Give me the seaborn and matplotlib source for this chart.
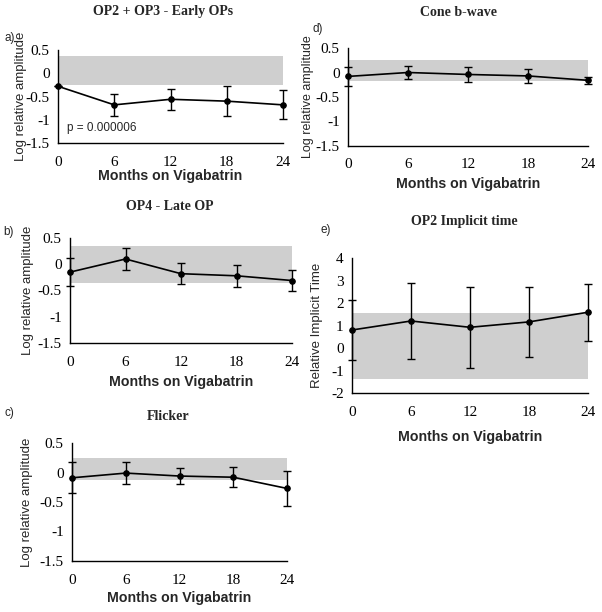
import matplotlib
matplotlib.use('Agg')
import matplotlib.pyplot as plt
import seaborn as sns
import pandas as pd
from matplotlib.ticker import FormatStrFormatter

sns.set_style("white")
plt.rcParams['font.family'] = ['Liberation Serif', 'DejaVu Serif']
plt.rcParams['axes.unicode_minus'] = False

# ------------------------------------------------------------
# data
# ------------------------------------------------------------
months = [0, 6, 12, 18, 24]

a_mean = [-0.28, -0.68, -0.56, -0.60, -0.68]
a_err = [0.0, 0.23, 0.22, 0.33, 0.31]
a_band = (-0.26, 0.37)

b_mean = [-0.15, 0.10, -0.18, -0.22, -0.31]
b_err = [0.27, 0.21, 0.20, 0.21, 0.20]
b_band = (-0.35, 0.34)

c_mean = [-0.09, -0.01, -0.06, -0.08, -0.27]
c_err = [0.26, 0.19, 0.14, 0.165, 0.30]
c_band = (-0.13, 0.25)

d_mean = [-0.08, 0.0, -0.04, -0.07, -0.16]
d_err = [0.20, 0.13, 0.15, 0.14, 0.07]
d_band = (-0.18, 0.25)

e_mean = [0.80, 1.20, 0.92, 1.16, 1.59]
e_err = [1.35, 1.67, 1.79, 1.56, 1.27]
e_band = (-1.39, 1.57)

amp_ticks = [0.5, 0, -0.5, -1, -1.5]
time_ticks = [4, 3, 2, 1, 0, -1, -2]

W, H = 602, 612
fig = plt.figure(figsize=(W / 100, H / 100), dpi=100)


def px_axes(left, top, right, bottom):
    return fig.add_axes([left / W, 1 - bottom / H, (right - left) / W, (bottom - top) / H])


def panel(ax, mean, err, band, yticks, ylabel, xlab_off, ylab_x, ylab_size=9.5):
    df = pd.DataFrame({'month': months, 'value': mean})
    ax.axhspan(band[0], band[1], color='#cfcfcf', lw=0, zorder=0)
    ax.errorbar(months, mean, yerr=err, fmt='none', ecolor='black',
                elinewidth=1, capsize=3, capthick=1, clip_on=False, zorder=3)
    sns.lineplot(data=df, x='month', y='value', ax=ax, color='black', lw=1.2,
                 marker='o', markersize=4, markeredgecolor='black',
                 clip_on=False, zorder=4)
    ax.set_xlim(0, 24)
    ax.set_ylim(min(yticks), max(yticks))
    ax.set_xticks(months)
    ax.set_yticks(yticks)
    ax.yaxis.set_major_formatter(FormatStrFormatter('%g'))
    ax.tick_params(axis='x', direction='in', length=3, width=0.8, pad=9,
                   labelsize=11, colors='black')
    ax.tick_params(axis='y', direction='out', length=4, width=0.8, pad=2,
                   labelsize=11, colors='black')
    for s in ['top', 'right']:
        ax.spines[s].set_visible(False)
    for s in ['left', 'bottom']:
        ax.spines[s].set_color('black')
        ax.spines[s].set_linewidth(1)
    ax.set_xlabel('Months on Vigabatrin', family='Liberation Sans',
                  fontweight='bold', fontsize=10.2)
    ax.set_ylabel(ylabel, family='Liberation Sans', fontsize=ylab_size)
    ax.xaxis.set_label_coords(0.5, xlab_off)
    ax.xaxis.label.set_verticalalignment('center')
    ax.yaxis.set_label_coords(ylab_x, 0.5)
    ax.yaxis.label.set_verticalalignment('center')


ax_a = px_axes(58, 50, 283, 143)
panel(ax_a, a_mean, a_err, a_band, amp_ticks, 'Log relative amplitude', -0.355, -0.165)
ax_a.text(0.04, 0.16, 'p = 0.000006', transform=ax_a.transAxes,
          family='Liberation Sans', fontsize=8.5, va='center')

ax_b = px_axes(70, 238, 292, 343)
panel(ax_b, b_mean, b_err, b_band, amp_ticks, 'Log relative amplitude', -0.369, -0.19)

ax_c = px_axes(72, 443, 287, 561)
panel(ax_c, c_mean, c_err, c_band, amp_ticks, 'Log relative amplitude', -0.314, -0.21)

ax_d = px_axes(348, 48, 588, 146)
panel(ax_d, d_mean, d_err, d_band, amp_ticks, 'Log relative amplitude', -0.385, -0.165,
      ylab_size=9)

ax_e = px_axes(352, 258, 588, 393)
panel(ax_e, e_mean, e_err, e_band, time_ticks, 'Relative Implicit Time', -0.326, -0.15)

# titles and panel letters
titles = [('OP2 + OP3 - Early OPs', 163, 11), ('Cone b-wave', 458, 12),
          ('OP4 - Late OP', 170, 207), ('Flicker', 168, 416),
          ('OP2 Implicit time', 464, 221)]
for txt, x, y in titles:
    fig.text(x / W, 1 - y / H, txt, ha='center', va='center',
             fontweight='bold', fontsize=10)

letters = [('a)', 10, 38), ('b)', 9, 232), ('c)', 9, 413), ('d)', 318, 29), ('e)', 326, 230)]
for txt, x, y in letters:
    fig.text(x / W, 1 - y / H, txt, ha='center', va='center',
             family='Liberation Sans', fontsize=8.5)

fig.savefig('out.png', dpi=100)
